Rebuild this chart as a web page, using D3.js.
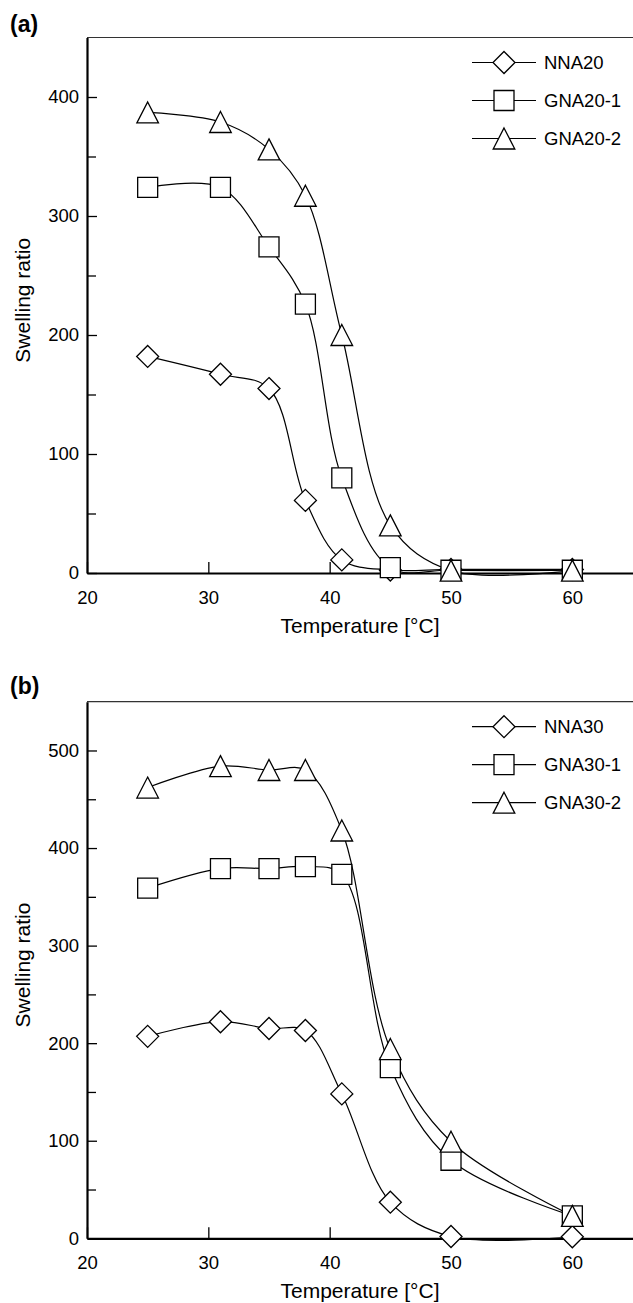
<!DOCTYPE html>
<html>
<head>
<meta charset="utf-8">
<script src="https://cdn.jsdelivr.net/npm/d3@7"></script>
<style>
  body { margin: 0; background: #fff; }
  svg { display: block; font-family: "Liberation Sans", Arial, sans-serif; }
  .axis text { font-size: 18.5px; fill: #000; font-family: "Liberation Sans", Arial, sans-serif; }
  .axis line { stroke: #000; stroke-width: 1.3; }
  .axis path { stroke: #000; stroke-width: 2.2; }
  .axis-label { font-size: 21px; fill: #000; }
  .panel-label { font-size: 23px; font-weight: bold; fill: #000; }
  .legend text { font-size: 18.5px; fill: #000; }
  .series { fill: none; stroke: #000; stroke-width: 1.2; }
  .marker { fill: #fff; stroke: #000; stroke-width: 1.3; }
</style>
</head>
<body>
<div id="chart"></div>
<script>
// temperatures shared by both panels
var temps = [25, 31, 35, 38, 41, 45, 50, 60];

// panel (a)
var namesA = ['NNA20', 'GNA20-1', 'GNA20-2'];
var nna20 = [182, 167, 155, 61, 11, 2.5, 3, 3];
var gna20_1 = [324, 324, 274, 226, 80, 4.5, 2.3, 2.3];
var gna20_2 = [387, 379, 356, 317, 200, 40, 2, 2];

// panel (b)
var namesB = ['NNA30', 'GNA30-1', 'GNA30-2'];
var nna30 = [207, 222, 215, 213, 148, 37, 1.8, 1.6];
var gna30_1 = [359, 379, 379, 381, 373, 175, 80, 23];
var gna30_2 = [462, 484, 480, 480, 418, 194, 99, 23];

var xTicks = [20, 30, 40, 50, 60];
var yTicksA = [0, 100, 200, 300, 400];
var yMinorA = [50, 150, 250, 350];
var yTicksB = [0, 100, 200, 300, 400, 500];
var yMinorB = [50, 150, 250, 350, 450];

var W = 633, H = 1303;
var svg = d3.select('#chart')
  .append('svg')
  .attr('width', W)
  .attr('height', H);

// marker outlines, centred on 0,0
var shapes = [
  function() { return 'M0,-11L11,0L0,11L-11,0Z'; },
  function() { return 'M-10,-10H10V10H-10Z'; },
  function() { return 'M0,-10.5L10.8,10.5L-10.8,10.5Z'; }
];

function drawPanel(cfg) {
  var x = d3.scaleLinear().domain([20, 65]).range([87, 633]);
  var y = d3.scaleLinear().domain([0, cfg.yMax]).range([cfg.bottom, cfg.top]);

  var g = svg.append('g');

  // top frame line
  g.append('line')
    .attr('x1', x(20)).attr('x2', x(65))
    .attr('y1', y(cfg.yMax)).attr('y2', y(cfg.yMax))
    .attr('stroke', '#333')
    .attr('stroke-width', 1.2);

  // y axis, ticks inside
  g.append('g')
    .attr('class', 'axis')
    .attr('transform', 'translate(' + x(20) + ',0)')
    .call(d3.axisLeft(y).tickValues(cfg.yTicks).tickSizeInner(-10).tickSizeOuter(0).tickPadding(8));
  g.append('g')
    .attr('class', 'axis')
    .attr('transform', 'translate(' + x(20) + ',0)')
    .call(d3.axisLeft(y).tickValues(cfg.yMinor).tickSizeInner(-9).tickSizeOuter(0).tickFormat(''))
    .select('.domain').remove();

  // x axis
  g.append('g')
    .attr('class', 'axis')
    .attr('transform', 'translate(0,' + y(0) + ')')
    .call(d3.axisBottom(x).tickValues(xTicks).tickSizeInner(-11).tickSizeOuter(0).tickPadding(18));

  g.append('text')
    .attr('class', 'axis-label')
    .attr('x', 360)
    .attr('y', y(0) + 60)
    .attr('text-anchor', 'middle')
    .text('Temperature [°C]');

  g.append('text')
    .attr('class', 'axis-label')
    .attr('transform', 'translate(30,' + ((cfg.top + cfg.bottom) / 2 - 5) + ') rotate(-90)')
    .attr('text-anchor', 'middle')
    .text('Swelling ratio');

  g.append('text')
    .attr('class', 'panel-label')
    .attr('x', 10)
    .attr('y', cfg.labelY)
    .text(cfg.label);

  var line = d3.line()
    .x(function(d) { return x(d.t); })
    .y(function(d) { return y(d.v); })
    .curve(d3.curveCatmullRom.alpha(0.5));

  var series = cfg.series.map(function(vals) {
    return temps.map(function(t, i) { return { t: t, v: vals[i] }; });
  });

  g.selectAll('.series')
    .data(series)
    .enter()
    .append('path')
    .attr('class', 'series')
    .attr('d', line);

  series.forEach(function(pts, k) {
    g.selectAll('.m' + k)
      .data(pts)
      .enter()
      .append('path')
      .attr('class', 'marker m' + k)
      .attr('transform', function(d) { return 'translate(' + x(d.t) + ',' + y(d.v) + ')'; })
      .attr('d', shapes[k]);
  });

  // legend
  var leg = g.append('g').attr('class', 'legend');
  cfg.names.forEach(function(name, k) {
    var ly = cfg.top + 25 + k * 38;
    leg.append('line')
      .attr('x1', 472).attr('x2', 536)
      .attr('y1', ly).attr('y2', ly)
      .attr('stroke', '#000')
      .attr('stroke-width', 1.2);
    leg.append('path')
      .attr('class', 'marker')
      .attr('transform', 'translate(504,' + ly + ')')
      .attr('d', shapes[k]);
    leg.append('text')
      .attr('x', 544)
      .attr('y', ly)
      .attr('dy', '0.35em')
      .text(name);
  });
}

drawPanel({
  label: '(a)', labelY: 32,
  top: 37.5, bottom: 573, yMax: 450,
  yTicks: yTicksA, yMinor: yMinorA,
  names: namesA, series: [nna20, gna20_1, gna20_2]
});

drawPanel({
  label: '(b)', labelY: 693.5,
  top: 701.7, bottom: 1238.3, yMax: 550,
  yTicks: yTicksB, yMinor: yMinorB,
  names: namesB, series: [nna30, gna30_1, gna30_2]
});
</script>
</body>
</html>
